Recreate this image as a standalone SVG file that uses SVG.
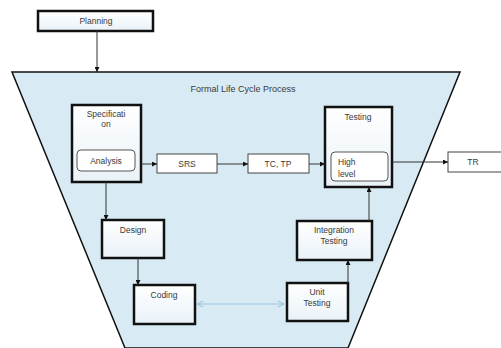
<svg xmlns="http://www.w3.org/2000/svg" width="501" height="348" viewBox="0 0 501 348">
<style>
.box{fill:url(#bg);stroke:#111;stroke-width:2.5}
.thin{fill:#fff;stroke:#444;stroke-width:1}
.in{fill:#fff;stroke:#555;stroke-width:1}
.t{font-family:"Liberation Sans",Arial,sans-serif;font-size:8.5px;fill:#3a3a3a;text-anchor:middle}
.tl{font-family:"Liberation Sans",Arial,sans-serif;font-size:8.5px;fill:#3a3a3a}
.c{stroke:#333;stroke-width:1;fill:none}
</style>
<defs>
<linearGradient id="bg" x1="0" y1="0" x2="0" y2="1">
<stop offset="0" stop-color="#ffffff"/>
<stop offset="1" stop-color="#e9f2f8"/>
</linearGradient>
<marker id="ah" viewBox="0 0 6 6" refX="6" refY="3" markerWidth="5" markerHeight="5" orient="auto">
<path d="M0,0 L6,3 L0,6 z" fill="#111"/>
</marker>
<marker id="oh" viewBox="0 0 8 8" refX="7" refY="4" markerWidth="8" markerHeight="8" orient="auto-start-reverse">
<path d="M1,1 L7,4 L1,7" fill="none" stroke="#8fc0e0" stroke-width="1"/>
</marker>
</defs>
<rect width="501" height="348" fill="#fff"/>
<g id="process">
<path d="M12,72 L460,72 L348,348 L125,348 Z" fill="#d8eaf3" stroke="#111" stroke-width="1.5"/>
<text class="t" x="243" y="92" style="font-size:9px">Formal Life Cycle Process</text>
</g>
<g id="planning">
<rect x="38" y="11" width="115" height="20" class="box"/>
<text class="t" x="96" y="24">Planning</text>
</g>
<g id="specification">
<rect x="72" y="105" width="69" height="77" class="box"/>
<text class="t" x="106" y="117">Specificati</text>
<text class="t" x="106" y="127">on</text>
<g id="analysis">
<rect x="77" y="150" width="58" height="21" rx="4" class="in"/>
<text class="t" x="106" y="164">Analysis</text>
</g>
</g>
<g id="srs">
<rect x="157" y="154" width="60" height="19" class="thin"/>
<text class="t" x="187" y="166.5">SRS</text>
</g>
<g id="tctp">
<rect x="248" y="154" width="61" height="19" class="thin"/>
<text class="t" x="278" y="166.5">TC, TP</text>
</g>
<g id="testing">
<rect x="325" y="107" width="67" height="80" class="box"/>
<text class="t" x="358" y="120">Testing</text>
<g id="highlevel">
<rect x="331" y="152" width="57" height="29" rx="4" class="in"/>
<text class="tl" x="338" y="165">High</text>
<text class="tl" x="338" y="177">level</text>
</g>
</g>
<g id="tr">
<rect x="448" y="152" width="60" height="20" class="thin"/>
<text class="t" x="473" y="165">TR</text>
</g>
<g id="design">
<rect x="102" y="220" width="62" height="38" class="box"/>
<text class="t" x="133" y="233">Design</text>
</g>
<g id="coding">
<rect x="134" y="285" width="61" height="39" class="box"/>
<text class="t" x="164" y="298">Coding</text>
</g>
<g id="unittesting">
<rect x="287" y="283" width="61" height="38" class="box"/>
<text class="t" x="317" y="295">Unit</text>
<text class="t" x="317" y="306">Testing</text>
</g>
<g id="integration">
<rect x="297" y="221" width="75" height="39" class="box"/>
<text class="t" x="334" y="233">Integration</text>
<text class="t" x="334" y="244">Testing</text>
</g>
<g id="connectors">
<line class="c" x1="97" y1="31" x2="97" y2="72" marker-end="url(#ah)"/>
<line class="c" x1="141" y1="164" x2="157" y2="164" marker-end="url(#ah)"/>
<line class="c" x1="217" y1="164" x2="248" y2="164" marker-end="url(#ah)"/>
<line class="c" x1="309" y1="164" x2="325" y2="164" marker-end="url(#ah)"/>
<line class="c" x1="392" y1="162" x2="448" y2="162" marker-end="url(#ah)"/>
<line class="c" x1="106" y1="182" x2="106" y2="220" marker-end="url(#ah)"/>
<line class="c" x1="138" y1="258" x2="138" y2="285" marker-end="url(#ah)"/>
<line x1="197" y1="304" x2="284" y2="304" stroke="#9cc6e2" stroke-width="1" marker-start="url(#oh)" marker-end="url(#oh)"/>
<line class="c" x1="348" y1="283" x2="348" y2="260" marker-end="url(#ah)"/>
<line class="c" x1="369" y1="221" x2="369" y2="187" marker-end="url(#ah)"/>
</g>
</svg>
